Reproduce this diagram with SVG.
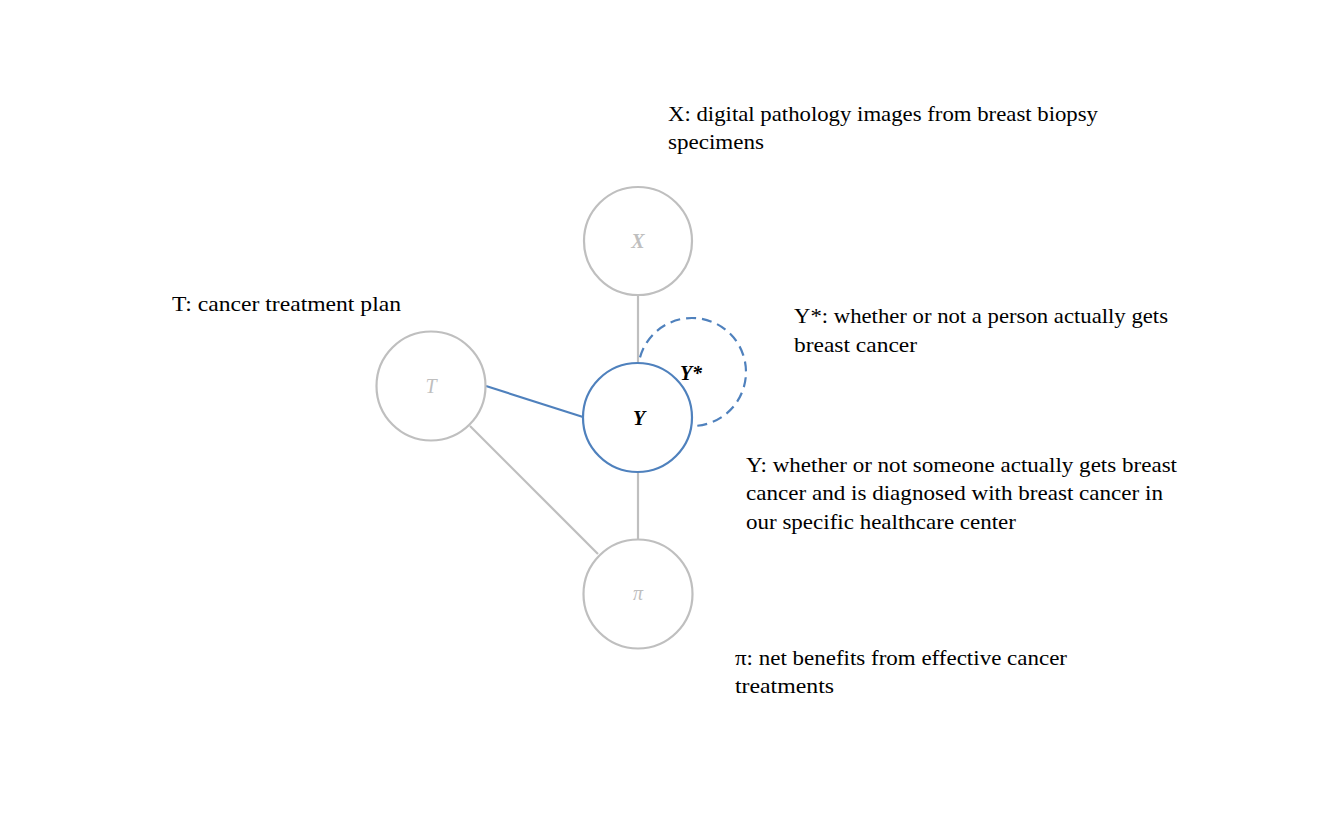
<svg xmlns="http://www.w3.org/2000/svg" width="1344" height="820" viewBox="0 0 1344 820">
<style>
.node{fill:#ffffff;stroke:#bfbfbf;stroke-width:2.2}
.nodeb{fill:#ffffff;stroke:#4f81bd;stroke-width:2.2}
.e{stroke:#bfbfbf;stroke-width:2.2;fill:none}
.eb{stroke:#4f81bd;stroke-width:2.2;fill:none}
.lbl{font-family:"Liberation Serif","DejaVu Serif",serif;font-style:italic;font-size:20px;text-anchor:middle}
.gray{fill:#bfbfbf}
.dark{fill:#000000;font-weight:bold}
.desc{font-family:"Liberation Serif","DejaVu Serif",serif;font-size:21px;fill:#000000}
</style>
<rect width="1344" height="820" fill="#ffffff"/>
<g id="connectors">
<line class="e" x1="638" y1="295" x2="638" y2="363"/>
<line class="e" x1="638" y1="472" x2="638" y2="539"/>
<line class="eb" x1="486" y1="386" x2="583" y2="417"/>
<line class="e" x1="470" y1="426" x2="598" y2="554"/>
<path class="eb" d="M640,357.4 A54,54 0 1 1 695,425.9" stroke-dasharray="10,6"/>
</g>
<g id="node-X">
<circle class="node" cx="638" cy="241" r="54"/>
<text class="lbl gray" x="638" y="248" font-weight="bold">X</text>
</g>
<g id="node-T">
<circle class="node" cx="431" cy="386" r="54.5"/>
<text class="lbl gray" x="431" y="393">T</text>
</g>
<g id="node-Y">
<circle class="nodeb" cx="637.5" cy="417.5" r="54.5"/>
<text class="lbl dark" x="639" y="425">Y</text>
</g>
<g id="node-Ystar">
<text class="lbl dark" x="691" y="380">Y*</text>
</g>
<g id="node-pi">
<circle class="node" cx="638" cy="594" r="54.5"/>
<text class="lbl gray" x="638" y="600" font-size="18">π</text>
</g>
<g id="descriptions">
<text class="desc" x="668" y="121" textLength="430" lengthAdjust="spacingAndGlyphs">X: digital pathology images from breast biopsy</text>
<text class="desc" x="668" y="149" textLength="96" lengthAdjust="spacingAndGlyphs">specimens</text>
<text class="desc" x="172" y="311" textLength="229" lengthAdjust="spacingAndGlyphs">T: cancer treatment plan</text>
<text class="desc" x="794" y="323" textLength="374" lengthAdjust="spacingAndGlyphs">Y*: whether or not a person actually gets</text>
<text class="desc" x="794" y="352" textLength="123" lengthAdjust="spacingAndGlyphs">breast cancer</text>
<text class="desc" x="746" y="472" textLength="431" lengthAdjust="spacingAndGlyphs">Y: whether or not someone actually gets breast</text>
<text class="desc" x="746" y="500" textLength="417" lengthAdjust="spacingAndGlyphs">cancer and is diagnosed with breast cancer in</text>
<text class="desc" x="746" y="529" textLength="270" lengthAdjust="spacingAndGlyphs">our specific healthcare center</text>
<text class="desc" x="735" y="665" textLength="332" lengthAdjust="spacingAndGlyphs">π: net benefits from effective cancer</text>
<text class="desc" x="735" y="693" textLength="99" lengthAdjust="spacingAndGlyphs">treatments</text>
</g>
</svg>
